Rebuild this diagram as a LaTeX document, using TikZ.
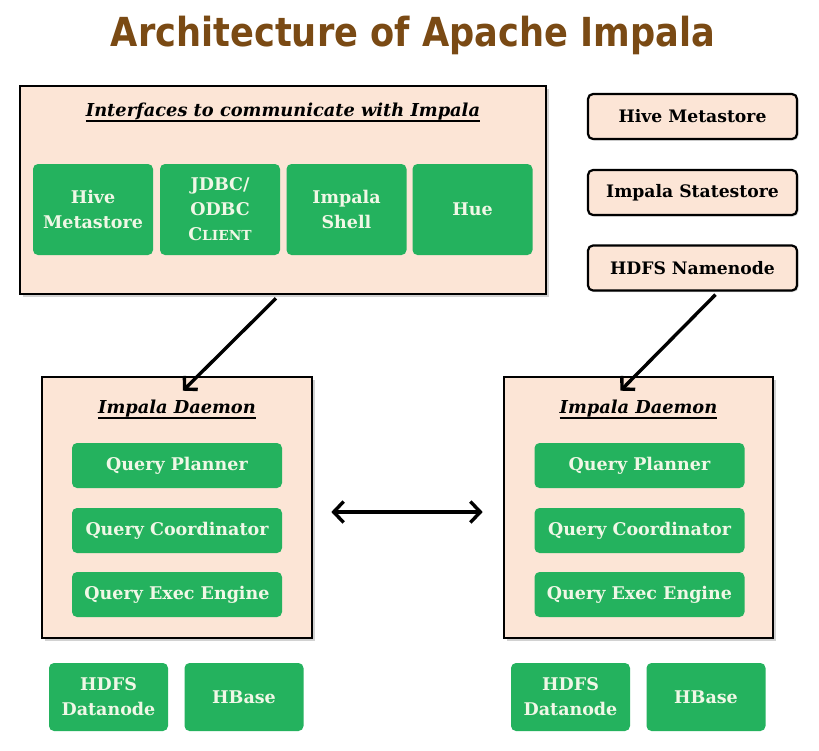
\documentclass[tikz,border=0pt]{standalone}
\usepackage{fontspec}
\setmainfont{DejaVu Serif}
\newfontfamily\titlefont{DejaVu Sans}
\usetikzlibrary{arrows.meta,shadows}
\definecolor{peach}{HTML}{FCE5D6}
\definecolor{grn}{HTML}{24B25E}
\definecolor{grntext}{HTML}{F0F7E6}
\definecolor{titlebrown}{HTML}{7A4A14}
\tikzset{
  panel/.style={draw=black, line width=2.6pt, fill=peach, inner sep=0pt,
    drop shadow={shadow xshift=2.5pt, shadow yshift=-2.5pt, opacity=0.35, fill=gray}},
  greenbox/.style={fill=grn, rounded corners=5pt, inner sep=0pt, text=grntext,
    font=\bfseries\fontsize{17.5}{25}\selectfont, align=center},
  sidebox/.style={draw=black, line width=2.2pt, fill=peach, rounded corners=5pt, inner sep=0pt,
    minimum width=209pt, minimum height=45pt, font=\bfseries\fontsize{17.2}{20}\selectfont,
    drop shadow={shadow xshift=1.5pt, shadow yshift=-1.5pt, opacity=0.3, fill=gray}},
  heading/.style={font=\bfseries\itshape\fontsize{17.8}{22}\selectfont, inner sep=0pt},
  uline/.style={line width=1.2pt},
  bar/.style={greenbox, minimum width=210pt, minimum height=45pt},
  ifbox/.style={greenbox, minimum width=120pt, minimum height=91pt},
  dnbox/.style={greenbox, minimum width=119pt, minimum height=68pt},
  conn/.style={line width=3.4pt, -{Straight Barb[length=9pt,width=19pt,line width=3.4pt]}},
  dconn/.style={line width=3.4pt, {Straight Barb[length=10pt,width=21pt,line width=3.4pt]}-{Straight Barb[length=10pt,width=21pt,line width=3.4pt]}}
}
\begin{document}
\begin{tikzpicture}[x=1pt,y=-1pt]
\useasboundingbox (0,0) rectangle (819,750);
\fill[white] (0,0) rectangle (819,750);
% title
\node (title) at (413,35) {\titlefont\bfseries\color{titlebrown}\scalebox{0.88}[1]{\fontsize{40}{46}\selectfont Architecture of Apache Impala}};
% interfaces panel
\node[panel, minimum width=526pt, minimum height=208pt] (intf) at (283,190) {};
\node[heading] (intfh) at (283,112) {Interfaces to communicate with Impala};
\draw[uline] ([yshift=-4pt]intfh.base west) -- ([yshift=-4pt]intfh.base east);
\node[ifbox] (hm) at (93,209.5) {Hive\\Metastore};
\node[ifbox] (jdbc) at (220,209.5) {JDBC/\\ODBC\\C{\fontsize{13.8}{20}\selectfont LIENT}};
\node[ifbox] (shell) at (346.5,209.5) {Impala\\Shell};
\node[ifbox] (hue) at (472.5,209.5) {Hue};
% side boxes
\node[sidebox] (meta) at (692.5,116.5) {Hive Metastore};
\node[sidebox] (state) at (692.5,192.5) {Impala Statestore};
\node[sidebox] (nn) at (692.5,268) {HDFS Namenode};
% daemons
\node[panel, minimum width=270pt, minimum height=261pt] (dL) at (177,507.5) {};
\node[panel, minimum width=269pt, minimum height=261pt] (dR) at (638.5,507.5) {};
\node[heading] (dLh) at (177,409) {Impala Daemon};
\node[heading] (dRh) at (638.5,409) {Impala Daemon};
\draw[uline] ([yshift=-4pt]dLh.base west) -- ([yshift=-4pt]dLh.base east);
\draw[uline] ([yshift=-4pt]dRh.base west) -- ([yshift=-4pt]dRh.base east);
\node[bar] (qpL) at (177,465.5) {Query Planner};
\node[bar] (qcL) at (177,530.5) {Query Coordinator};
\node[bar] (qeL) at (177,594.5) {Query Exec Engine};
\node[bar] (qpR) at (639.5,465.5) {Query Planner};
\node[bar] (qcR) at (639.5,530.5) {Query Coordinator};
\node[bar] (qeR) at (639.5,594.5) {Query Exec Engine};
% bottom
\node[dnbox] (dnL) at (108.5,697) {HDFS\\Datanode};
\node[dnbox] (hbL) at (244,697) {HBase};
\node[dnbox] (dnR) at (570.5,697) {HDFS\\Datanode};
\node[dnbox] (hbR) at (706,697) {HBase};
% connectors
\draw[conn] ([xshift=-7pt,yshift=-3pt]intf.south) -- ([xshift=6pt,yshift=-15pt]dL.north);
\draw[conn] ([xshift=23pt,yshift=-3pt]nn.south) -- ([xshift=-18pt,yshift=-15pt]dR.north);
\draw[dconn] ([xshift=18pt,yshift=-4.5pt]dL.east) -- ([xshift=-20pt,yshift=-4.5pt]dR.west);
\end{tikzpicture}
\end{document}
